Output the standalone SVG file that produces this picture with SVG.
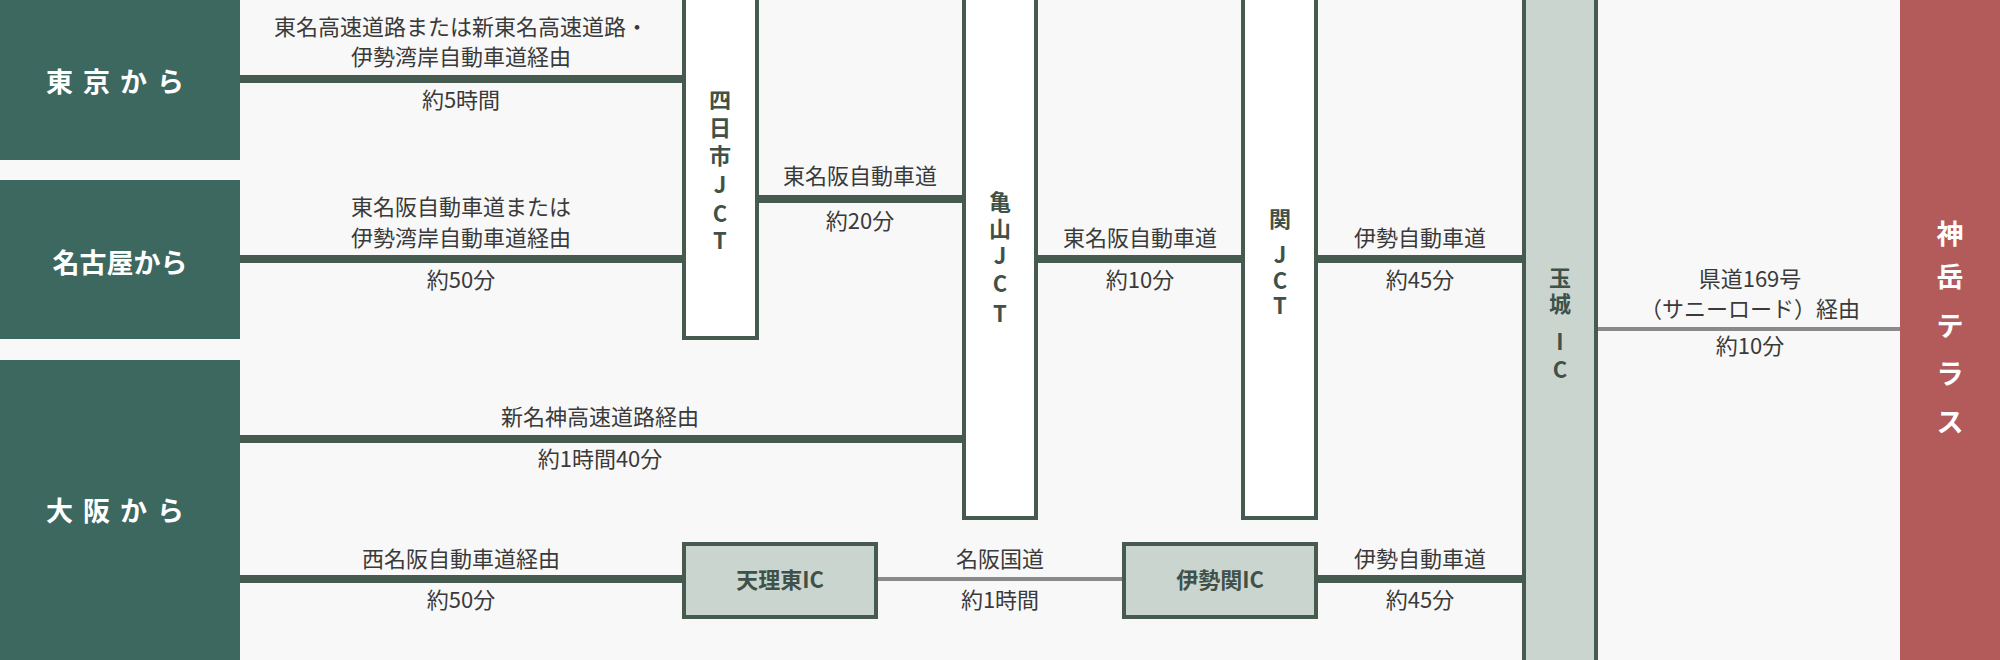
<svg xmlns="http://www.w3.org/2000/svg" width="2000" height="660" viewBox="0 0 2000 660">
<style>
.t{font-family:"Noto Sans CJK JP","Noto Sans",sans-serif;font-size:22px;fill:#3a3a3a;text-anchor:middle}
.o{font-family:"Noto Sans CJK JP",sans-serif;font-size:27px;font-weight:bold;fill:#fff;text-anchor:middle}
.v{font-family:"Noto Sans CJK JP",sans-serif;font-size:22px;font-weight:bold;fill:#3f5148;text-anchor:middle}
.jct{fill:#fff;stroke:#475a4f;stroke-width:4}
.ic{fill:#cbd5cf;stroke:#475a4f;stroke-width:4}
.g{stroke:#475a4f;stroke-width:8}
.gr{stroke:#8a8a8a;stroke-width:4}
</style>
<rect width="2000" height="660" fill="#f8f8f8"/>
<g id="connectors">
<line class="g" x1="240" y1="79" x2="684" y2="79"/>
<line class="g" x1="240" y1="259" x2="684" y2="259"/>
<line class="g" x1="757" y1="199" x2="964" y2="199"/>
<line class="g" x1="240" y1="439" x2="964" y2="439"/>
<line class="g" x1="1036" y1="259" x2="1243" y2="259"/>
<line class="g" x1="1316" y1="259" x2="1524" y2="259"/>
<line class="gr" x1="1596" y1="329" x2="1900" y2="329"/>
<line class="g" x1="240" y1="579" x2="684" y2="579"/>
<line class="gr" x1="876" y1="579" x2="1124" y2="579"/>
<line class="g" x1="1316" y1="579" x2="1524" y2="579"/>
<text class="t" x="461" y="35">東名高速道路または新東名高速道路・</text>
<text class="t" x="461" y="65">伊勢湾岸自動車道経由</text>
<text class="t" x="461" y="108">約5時間</text>
<text class="t" x="461" y="215">東名阪自動車道または</text>
<text class="t" x="461" y="246">伊勢湾岸自動車道経由</text>
<text class="t" x="461" y="288">約50分</text>
<text class="t" x="860" y="184">東名阪自動車道</text>
<text class="t" x="860" y="229">約20分</text>
<text class="t" x="600" y="425">新名神高速道路経由</text>
<text class="t" x="600" y="467">約1時間40分</text>
<text class="t" x="1140" y="246">東名阪自動車道</text>
<text class="t" x="1140" y="288">約10分</text>
<text class="t" x="1420" y="246">伊勢自動車道</text>
<text class="t" x="1420" y="288">約45分</text>
<text class="t" x="1750" y="287">県道169号</text>
<text class="t" x="1750" y="317">（サニーロード）経由</text>
<text class="t" x="1750" y="354">約10分</text>
<text class="t" x="461" y="567">西名阪自動車道経由</text>
<text class="t" x="461" y="608">約50分</text>
<text class="t" x="1000" y="567">名阪国道</text>
<text class="t" x="1000" y="608">約1時間</text>
<text class="t" x="1420" y="567">伊勢自動車道</text>
<text class="t" x="1420" y="608">約45分</text>
</g>
<g id="tokyo"><rect width="240" height="160" fill="#3d685f"/><text class="o" x="120" y="92" letter-spacing="10">東京から</text></g>
<g id="nagoya"><rect y="180" width="240" height="159" fill="#3d685f"/><text class="o" x="120" y="273">名古屋から</text></g>
<g id="osaka"><rect y="360" width="240" height="300" fill="#3d685f"/><text class="o" x="120" y="521" letter-spacing="10">大阪から</text></g>
<g id="yokkaichi"><rect class="jct" x="684" y="-4" width="73" height="342"/>
<text class="v" x="720" y="108">四</text><text class="v" x="720" y="136">日</text><text class="v" x="720" y="164">市</text><text class="v" x="720" y="193">J</text><text class="v" x="720" y="222">C</text><text class="v" x="720" y="249">T</text></g>
<g id="kameyama"><rect class="jct" x="964" y="-4" width="72" height="522"/>
<text class="v" x="1000" y="210">亀</text><text class="v" x="1000" y="237">山</text><text class="v" x="1000" y="264">J</text><text class="v" x="1000" y="292">C</text><text class="v" x="1000" y="322">T</text></g>
<g id="seki"><rect class="jct" x="1243" y="-4" width="73" height="522"/>
<text class="v" x="1280" y="227">関</text><text class="v" x="1280" y="263">J</text><text class="v" x="1280" y="289">C</text><text class="v" x="1280" y="314">T</text></g>
<g id="tamaki"><rect class="ic" x="1524" y="-4" width="72" height="670"/>
<text class="v" x="1560" y="286">玉</text><text class="v" x="1560" y="312">城</text><text class="v" x="1560" y="350">I</text><text class="v" x="1560" y="378">C</text></g>
<g id="kamitake"><rect x="1900" width="100" height="660" fill="#b35a5a"/>
<text class="o" x="1950" y="244">神</text><text class="o" x="1950" y="287">岳</text><text class="o" x="1950" y="336">テ</text><text class="o" x="1950" y="384">ラ</text><text class="o" x="1950" y="432">ス</text></g>
<g id="tenri"><rect class="ic" x="684" y="544" width="192" height="73"/><text class="v" x="780" y="588">天理東IC</text></g>
<g id="iseseki"><rect class="ic" x="1124" y="544" width="192" height="73"/><text class="v" x="1220" y="588">伊勢関IC</text></g>
</svg>
